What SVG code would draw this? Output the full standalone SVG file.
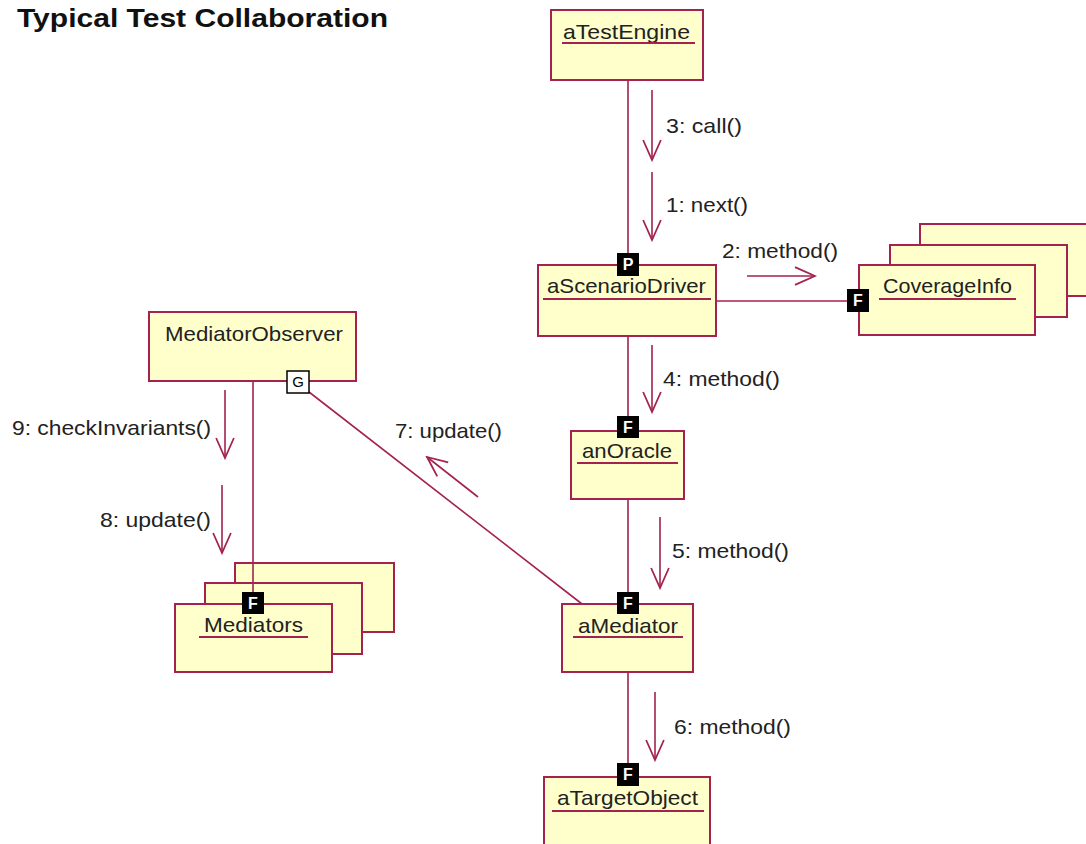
<svg xmlns="http://www.w3.org/2000/svg" width="1086" height="844" viewBox="0 0 1086 844">
<defs>
<style>
.box{fill:#ffffcc;stroke:#a3224f;stroke-width:2}
.ln{fill:none;stroke:#a3224f;stroke-width:1.6}
.ul{stroke:#a3224f;stroke-width:2}
.t{font-family:"Liberation Sans",Arial,sans-serif;font-size:21px;fill:#222}
.lbl{font-family:"Liberation Sans",Arial,sans-serif;font-size:21px;fill:#222}
.bdg{fill:#000}
.bt{font-family:"Liberation Sans",Arial,sans-serif;font-size:16px;font-weight:bold;fill:#fff;text-anchor:middle}
.msg{fill:none;stroke:#a3224f;stroke-width:1.6;marker-end:url(#ah)}
</style>
<marker id="ah" markerUnits="userSpaceOnUse" markerWidth="24" markerHeight="20" viewBox="0 0 20 18" refX="19" refY="9" orient="auto">
<path d="M1,1 L19,9 L1,17" fill="none" stroke="#a3224f" stroke-width="1.6"/>
</marker>
</defs>
<rect width="1086" height="844" fill="#fff"/>
<text x="17" y="27" font-family="'Liberation Sans',Arial,sans-serif" font-size="26" font-weight="bold" fill="#111" textLength="371" lengthAdjust="spacingAndGlyphs">Typical Test Collaboration</text>

<g id="aTestEngine">
<rect class="box" x="551" y="10" width="152" height="70"/>
<text class="t" x="563" y="39" textLength="127" lengthAdjust="spacingAndGlyphs">aTestEngine</text>
<line class="ul" x1="562" y1="43" x2="695" y2="43"/>
</g>

<g id="aScenarioDriver">
<rect class="box" x="538" y="265" width="178" height="71"/>
<text class="t" x="547" y="293" textLength="159" lengthAdjust="spacingAndGlyphs">aScenarioDriver</text>
<line class="ul" x1="543" y1="299" x2="711" y2="299"/>
</g>

<g id="CoverageInfo">
<rect class="box" x="920" y="224" width="180" height="72"/>
<rect class="box" x="890" y="245" width="177" height="72"/>
<rect class="box" x="859" y="265" width="176" height="70"/>
<text class="t" x="883" y="293" textLength="129" lengthAdjust="spacingAndGlyphs">CoverageInfo</text>
<line class="ul" x1="879" y1="299" x2="1016" y2="299"/>
</g>

<g id="MediatorObserver">
<rect class="box" x="149" y="312" width="207" height="69"/>
<text class="t" x="165" y="341" textLength="178" lengthAdjust="spacingAndGlyphs">MediatorObserver</text>
</g>

<g id="anOracle">
<rect class="box" x="571" y="431" width="113" height="68"/>
<text class="t" x="582" y="458" textLength="90" lengthAdjust="spacingAndGlyphs">anOracle</text>
<line class="ul" x1="577" y1="463" x2="678" y2="463"/>
</g>

<g id="Mediators">
<rect class="box" x="235" y="563" width="159" height="69"/>
<rect class="box" x="205" y="583" width="157" height="71"/>
<rect class="box" x="175" y="604" width="157" height="68"/>
<text class="t" x="204" y="632" textLength="99" lengthAdjust="spacingAndGlyphs">Mediators</text>
<line class="ul" x1="199" y1="637" x2="308" y2="637"/>
</g>

<g id="aMediator">
<rect class="box" x="562" y="604" width="131" height="68"/>
<text class="t" x="578" y="633" textLength="100" lengthAdjust="spacingAndGlyphs">aMediator</text>
<line class="ul" x1="573" y1="637" x2="683" y2="637"/>
</g>

<g id="aTargetObject">
<rect class="box" x="544" y="777" width="166" height="90"/>
<text class="t" x="557" y="805" textLength="141" lengthAdjust="spacingAndGlyphs">aTargetObject</text>
<line class="ul" x1="552" y1="811" x2="704" y2="811"/>
</g>

<g id="connectors">
<line class="ln" x1="628" y1="80" x2="628" y2="253"/>
<line class="ln" x1="628" y1="336" x2="628" y2="416"/>
<line class="ln" x1="628" y1="499" x2="628" y2="592"/>
<line class="ln" x1="628" y1="672" x2="628" y2="763"/>
<line class="ln" x1="716" y1="301" x2="848" y2="301"/>
<line class="ln" x1="253" y1="381" x2="253" y2="592"/>
<line class="ln" x1="309" y1="392" x2="582" y2="604"/>

<path class="msg" d="M652,90 L652,160"/>
<path class="msg" d="M652,172 L652,240"/>
<path class="msg" d="M747,276 L815,276"/>
<path class="msg" d="M652,345 L652,412"/>
<path class="msg" d="M660,517 L660,588"/>
<path class="msg" d="M655,692 L655,760"/>
<path class="msg" d="M478,497 L427,457"/>
<path class="msg" d="M225,390 L225,458"/>
<path class="msg" d="M222,485 L222,553"/>

<text class="lbl" x="666" y="133" textLength="76" lengthAdjust="spacingAndGlyphs">3: call()</text>
<text class="lbl" x="666" y="212" textLength="82" lengthAdjust="spacingAndGlyphs">1: next()</text>
<text class="lbl" x="722" y="258" textLength="116" lengthAdjust="spacingAndGlyphs">2: method()</text>
<text class="lbl" x="663" y="386" textLength="117" lengthAdjust="spacingAndGlyphs">4: method()</text>
<text class="lbl" x="672" y="558" textLength="117" lengthAdjust="spacingAndGlyphs">5: method()</text>
<text class="lbl" x="674" y="734" textLength="117" lengthAdjust="spacingAndGlyphs">6: method()</text>
<text class="lbl" x="395" y="438" textLength="107" lengthAdjust="spacingAndGlyphs">7: update()</text>
<text class="lbl" x="12" y="435" textLength="199" lengthAdjust="spacingAndGlyphs">9: checkInvariants()</text>
<text class="lbl" x="100" y="527" textLength="111" lengthAdjust="spacingAndGlyphs">8: update()</text>
</g>

<g id="badges">
<rect class="bdg" x="617" y="253" width="22" height="23"/>
<text class="bt" x="628" y="270">P</text>
<rect class="bdg" x="847" y="289" width="22" height="23"/>
<text class="bt" x="858" y="306">F</text>
<rect x="287" y="371" width="22" height="22" fill="#fff" stroke="#000" stroke-width="1.5"/>
<text x="298" y="387" font-family="'Liberation Sans',Arial,sans-serif" font-size="15" fill="#000" text-anchor="middle">G</text>
<rect class="bdg" x="617" y="416" width="22" height="22"/>
<text class="bt" x="628" y="433">F</text>
<rect class="bdg" x="242" y="592" width="22" height="22"/>
<text class="bt" x="253" y="609">F</text>
<rect class="bdg" x="617" y="592" width="22" height="22"/>
<text class="bt" x="628" y="609">F</text>
<rect class="bdg" x="617" y="763" width="22" height="23"/>
<text class="bt" x="628" y="780">F</text>
</g>
</svg>
